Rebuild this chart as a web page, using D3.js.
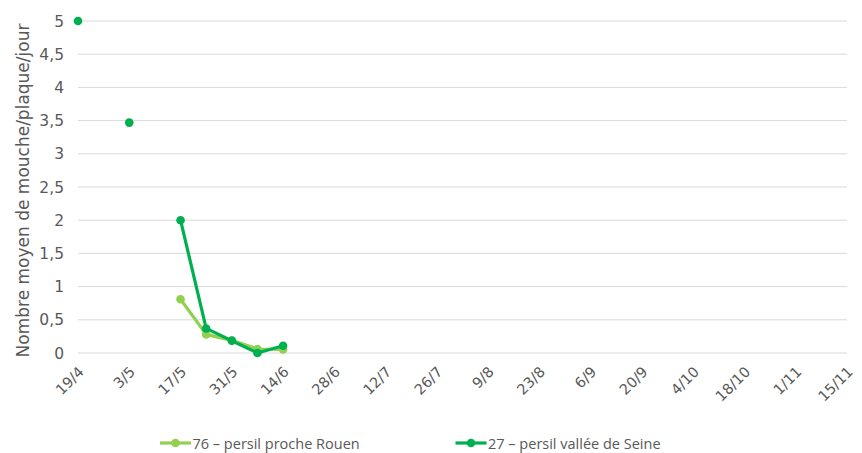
<!DOCTYPE html>
<html><head><meta charset="utf-8">
<script src="https://cdn.jsdelivr.net/npm/d3@7"></script>
<style>body{margin:0;background:#fff}svg{display:block}</style>
</head><body>
<svg id="c" width="862" height="453"></svg>
<script>
const tickLabels = ["19/4","3/5","17/5","31/5","14/6","28/6","12/7","26/7","9/8","23/8","6/9","20/9","4/10","18/10","1/11","15/11"];
const yTicks = [0,0.5,1,1.5,2,2.5,3,3.5,4,4.5,5];
const dates76 = ["17/5","24/5","31/5","7/6","14/6"];
const values76 = [0.81,0.28,0.19,0.06,0.055];
const dates27 = ["19/4","26/4","3/5","10/5","17/5","24/5","31/5","7/6","14/6"];
const values27 = [5,null,3.47,null,2,0.37,0.185,0,0.11];
const seriesNames = ["76 – persil proche Rouen","27 – persil vallée de Seine"];
const colors = ["#92D050","#00B050"];

const parse = s => { const [d,m] = s.split("/").map(Number); return new Date(2020, m-1, d); };
const svg = d3.select("#c");
const font = "'DejaVu Sans', Verdana, sans-serif";
const legFont = "'Open Sans', 'Noto Sans', sans-serif";
const x = d3.scaleTime().domain([parse("19/4"), parse("15/11")]).range([78, 847]);
const y = d3.scaleLinear().domain([0,5]).range([353, 21]);

// gridlines
svg.append("g").selectAll("line").data(yTicks).join("line")
  .attr("x1",78).attr("x2",847).attr("y1",d=>y(d)).attr("y2",d=>y(d))
  .attr("stroke","#D9D9D9").attr("stroke-width",1);

// y tick labels
svg.append("g").selectAll("text").data(yTicks).join("text")
  .attr("x",64).attr("y",d=>y(d)).attr("dy","0.36em").attr("text-anchor","end")
  .attr("font-family",font).attr("font-size",15.5).attr("fill","#595959")
  .text(d=>String(d).replace(".",","));

// x tick labels
svg.append("g").selectAll("text").data(tickLabels).join("text")
  .attr("transform",d=>`translate(${x(parse(d))+3},${369}) rotate(-45)`)
  .attr("text-anchor","end").attr("dy","0.36em")
  .attr("font-family",font).attr("font-size",14.5).attr("fill","#595959")
  .text(d=>d);

// y title
svg.append("text").attr("transform","translate(28.5,190.5) rotate(-90)")
  .attr("text-anchor","middle").attr("font-family",font).attr("font-size",17).attr("fill","#595959")
  .text("Nombre moyen de mouche/plaque/jour");

const series = [
  {dates:dates76, values:values76, color:colors[0]},
  {dates:dates27, values:values27, color:colors[1]}
];
const line = d3.line().defined(d=>d.v!==null).x(d=>x(parse(d.d))).y(d=>y(d.v));
series.forEach(s=>{
  const pts = s.dates.map((d,i)=>({d, v:s.values[i]}));
  svg.append("path").datum(pts).attr("d",line).attr("fill","none")
    .attr("stroke",s.color).attr("stroke-width",3.2).attr("stroke-linejoin","round");
  svg.append("g").selectAll("circle").data(pts.filter(p=>p.v!==null)).join("circle")
    .attr("cx",p=>x(parse(p.d))).attr("cy",p=>y(p.v)).attr("r",4.3).attr("fill",s.color);
});

// legend
const legX = [160, 455.5];
seriesNames.forEach((n,i)=>{
  const g = svg.append("g").attr("transform",`translate(${legX[i]},443)`);
  g.append("line").attr("x1",0).attr("x2",31).attr("stroke",colors[i]).attr("stroke-width",3.2);
  g.append("circle").attr("cx",15.5).attr("r",4.3).attr("fill",colors[i]);
  g.append("text").attr("x",32.5).attr("y",6).attr("font-family",legFont).attr("font-size",14.5)
    .attr("fill","#595959").text(n);
});
</script>
</body></html>
